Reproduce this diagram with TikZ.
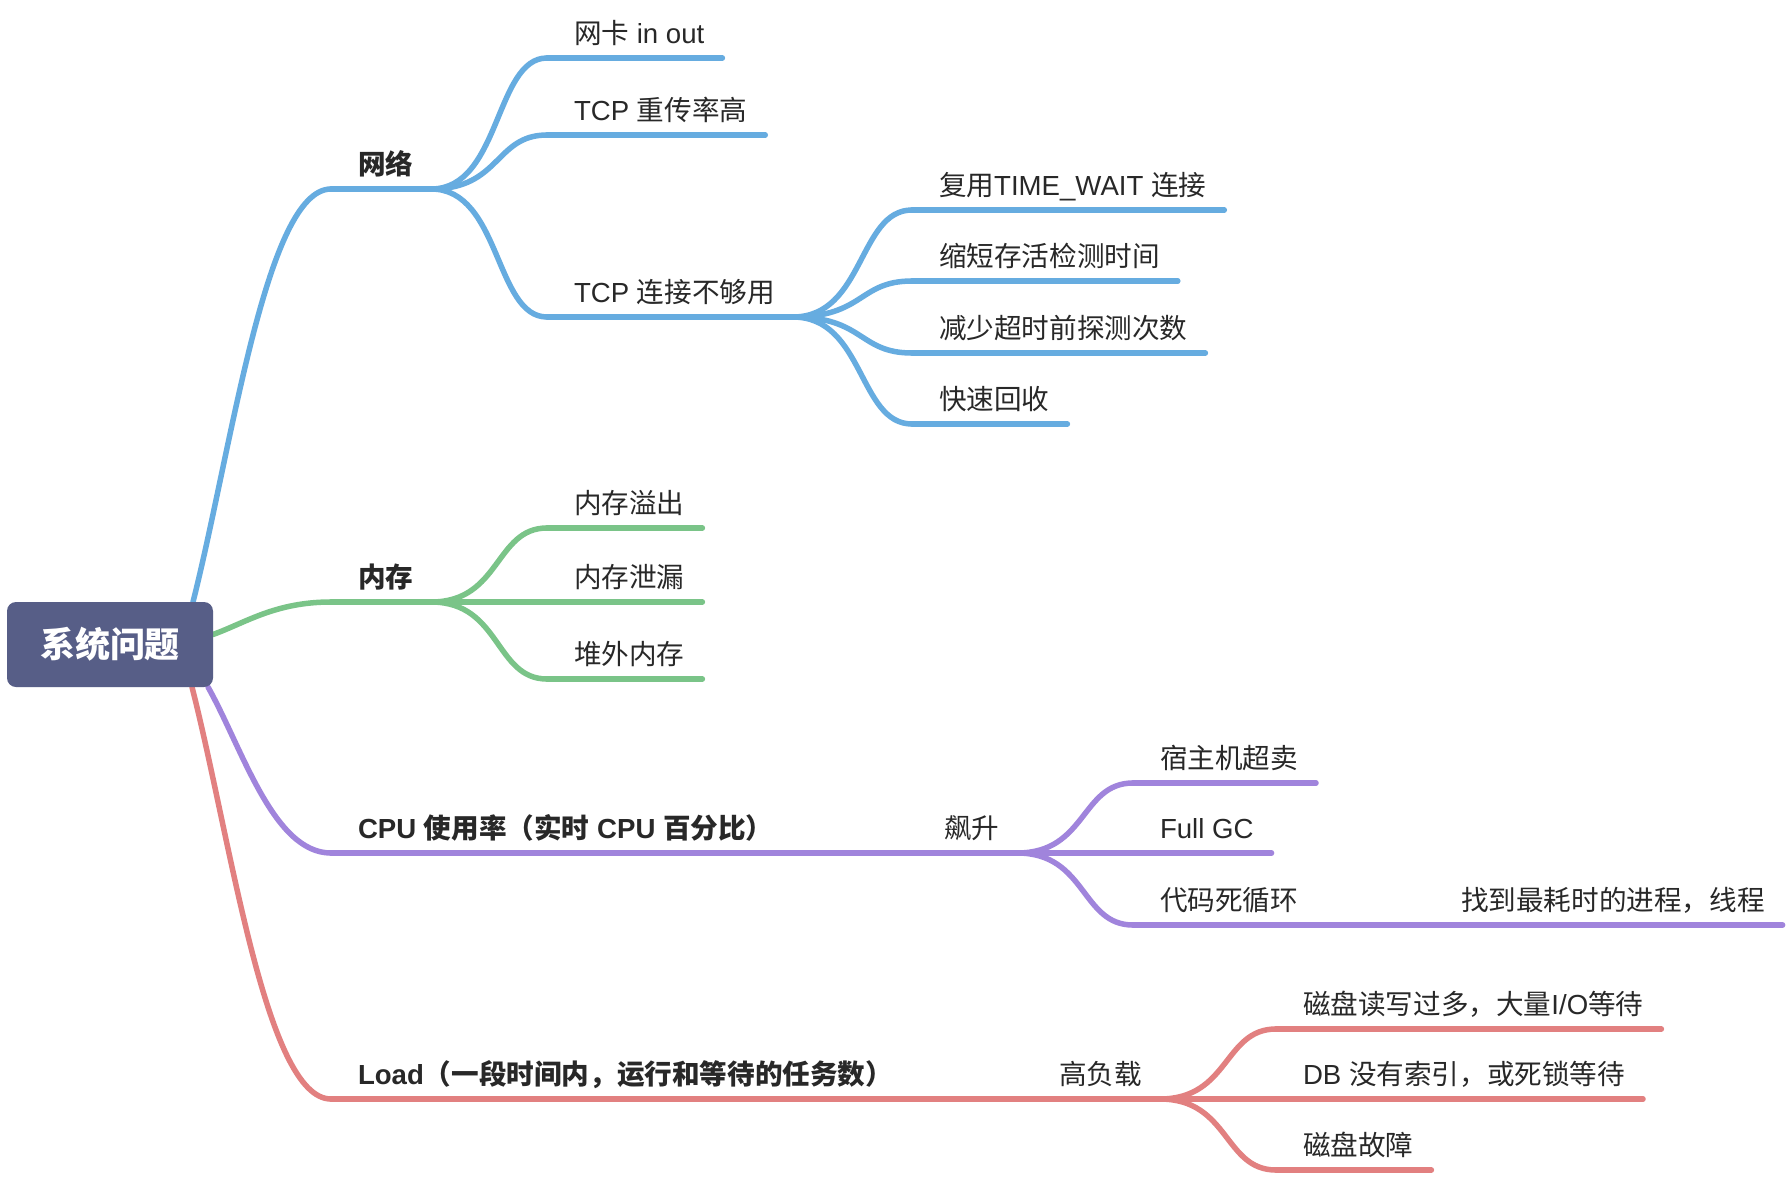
\documentclass[tikz,border=0pt]{standalone}
\usepackage{fontspec}
\setmainfont{Liberation Sans}
\newfontfamily\latinfont{Liberation Sans}
\newfontfamily\cjkfont{Noto Sans CJK SC}
\XeTeXinterchartokenstate=1
\newXeTeXintercharclass\cjkclass
\makeatletter
\newcount\my@c
\def\my@range#1#2{\my@c=#1\relax
  \loop\XeTeXcharclass\my@c=\cjkclass\advance\my@c by 1\relax\ifnum\my@c<#2\repeat}
\my@range{"3000}{"3040}
\my@range{"4E00}{"A000}
\my@range{"FF00}{"FFF0}
\makeatother
\XeTeXinterchartoks 0 \cjkclass = {\cjkfont}
\XeTeXinterchartoks 4095 \cjkclass = {\cjkfont}
\XeTeXinterchartoks \cjkclass 0 = {\latinfont}
\XeTeXinterchartoks \cjkclass 4095 = {\latinfont}
\usetikzlibrary{calc}
\pgfdeclarelayer{bg}
\pgfsetlayers{bg,main}
\definecolor{cblue}{RGB}{102,172,224}
\definecolor{cgreen}{RGB}{122,196,136}
\definecolor{cpurple}{RGB}{160,132,220}
\definecolor{cred}{RGB}{226,128,128}
\definecolor{croot}{RGB}{87,94,135}
\definecolor{txt}{RGB}{40,40,40}
\tikzset{
  topic/.style={anchor=south west, inner xsep=0pt, inner ysep=15pt, outer sep=0pt,
    text depth=0pt, font=\fontsize{27.6}{33}\selectfont, text=txt,
    execute at begin node={\hspace*{27pt}}, execute at end node={\hspace*{18pt}}},
  maintopic/.style={topic, font=\fontsize{27.6}{33}\selectfont\bfseries},
  bar/.style={line width=5.5pt, line cap=round},
  rootbox/.style={fill=croot, rounded corners=9pt, minimum width=206pt, minimum height=85pt,
    inner sep=0pt, outer sep=0pt, text=white, font=\fontsize{35}{40}\selectfont\bfseries},
}
\newcommand\tpline[2]{\draw[bar,#1] (#2.south west) -- (#2.south east);}
\newcommand\tplink[3]{\draw[bar,#1] let \p1=(#2.south east), \p2=(#3.south west) in
  (\p1) .. controls ({\x1+0.6*(\x2-\x1)},\y1) and ({\x1+0.55*(\x2-\x1)},\y2) .. (\p2);}
\newcommand\rtlink[3]{\draw[bar,#1] let \p1=(#2), \p2=(#3.south west) in
  (\p1) .. controls ({\x1+0.28*(\x2-\x1)},{\y1+0.37*(\y2-\y1)}) and ({\x2-0.47*(\x2-\x1)},\y2) .. (\p2);}
\begin{document}
\begin{tikzpicture}[x=1pt,y=-1pt]
\useasboundingbox (0,0) rectangle (1792,1176);
\begin{pgfonlayer}{bg}
\fill[white] (0,0) rectangle (1792,1176);
\end{pgfonlayer}

\node[rootbox] (root) at (110,644.5) {系统问题};

% level 1
\node[maintopic] (net) at (331,189) {网络};
\node[maintopic] (mem) at (331,602) {内存};
\node[maintopic] (cpu) at (331,853) {CPU 使用率（实时 CPU 百分比）};
\node[maintopic] (load) at (331,1099) {Load（一段时间内，运行和等待的任务数）};

% network
\node[topic] (nic) at (547,58) {网卡 in out};
\node[topic] (retrans) at (547,135) {TCP 重传率高};
\node[topic] (tcpconn) at (547,317) {TCP 连接不够用};
\node[topic] (reuse) at (912,210) {复用TIME\_WAIT 连接};
\node[topic] (shorten) at (912,281) {缩短存活检测时间};
\node[topic] (reduce) at (912,353) {减少超时前探测次数};
\node[topic] (recycle) at (912,424) {快速回收};

% memory
\node[topic] (oom) at (547,528) {内存溢出};
\node[topic] (leak) at (547,602) {内存泄漏};
\node[topic] (offheap) at (547,679) {堆外内存};

% cpu
\node[topic] (soar) at (917,853) {飙升};
\node[topic] (oversell) at (1133,783) {宿主机超卖};
\node[topic] (fullgc) at (1133,853) {Full GC};
\node[topic] (deadloop) at (1133,925) {代码死循环};
\node[topic] (find) at (1434,925) {找到最耗时的进程，线程};

% load
\node[topic] (gaoload) at (1032,1099) {高负载};
\node[topic] (diskio) at (1276,1029) {磁盘读写过多，大量I/O等待};
\node[topic] (db) at (1276,1099) {DB 没有索引，或死锁等待};
\node[topic] (diskfail) at (1276,1170) {磁盘故障};

\begin{pgfonlayer}{bg}
% root links
\rtlink{cblue}{[xshift=-20pt]root.north east}{net}
\rtlink{cgreen}{[yshift=10pt]root.east}{mem}
\rtlink{cpurple}{[xshift=-5pt]root.south east}{cpu}
\rtlink{cred}{[xshift=-21pt]root.south east}{load}
% underlines
\foreach \n in {net,nic,retrans,tcpconn,reuse,shorten,reduce,recycle}{\tpline{cblue}{\n}}
\foreach \n in {mem,oom,leak,offheap}{\tpline{cgreen}{\n}}
\foreach \n in {cpu,soar,oversell,fullgc,deadloop,find}{\tpline{cpurple}{\n}}
\foreach \n in {load,gaoload,diskio,db,diskfail}{\tpline{cred}{\n}}
% links
\tplink{cblue}{net}{nic}
\tplink{cblue}{net}{retrans}
\tplink{cblue}{net}{tcpconn}
\tplink{cblue}{tcpconn}{reuse}
\tplink{cblue}{tcpconn}{shorten}
\tplink{cblue}{tcpconn}{reduce}
\tplink{cblue}{tcpconn}{recycle}
\tplink{cgreen}{mem}{oom}
\tplink{cgreen}{mem}{leak}
\tplink{cgreen}{mem}{offheap}
\tplink{cpurple}{cpu}{soar}
\tplink{cpurple}{soar}{oversell}
\tplink{cpurple}{soar}{fullgc}
\tplink{cpurple}{soar}{deadloop}
\tplink{cpurple}{deadloop}{find}
\tplink{cred}{load}{gaoload}
\tplink{cred}{gaoload}{diskio}
\tplink{cred}{gaoload}{db}
\tplink{cred}{gaoload}{diskfail}
\end{pgfonlayer}
\end{tikzpicture}
\end{document}
